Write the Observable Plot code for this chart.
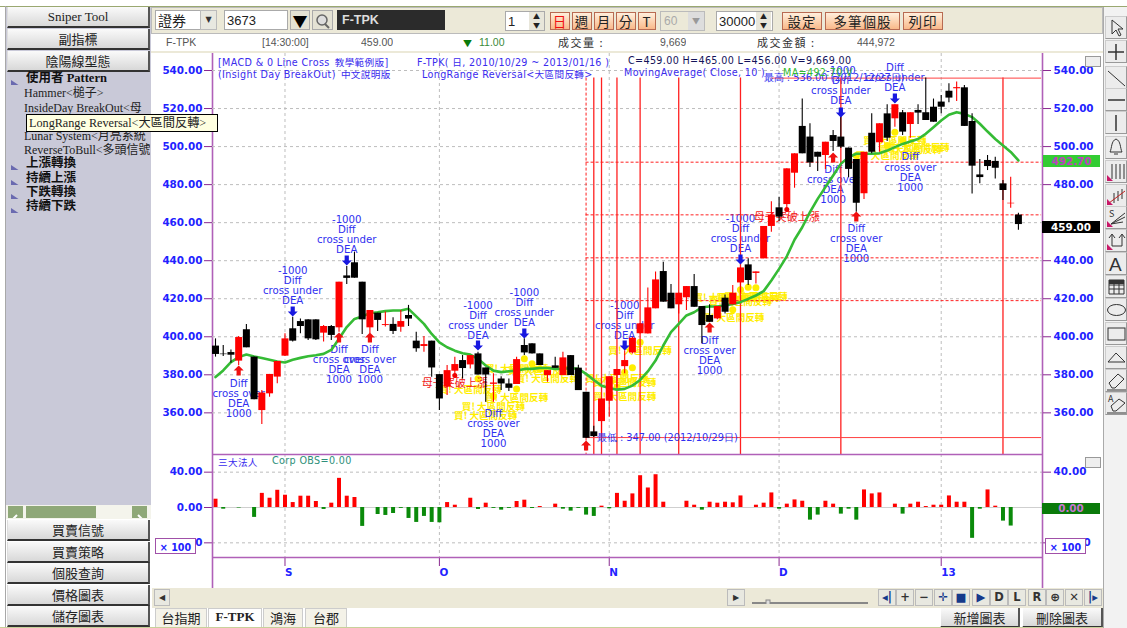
<!DOCTYPE html>
<html><head><meta charset="utf-8">
<script src="https://cdn.jsdelivr.net/npm/d3@7"></script>
<script src="https://cdn.jsdelivr.net/npm/@observablehq/plot@0.6"></script>
<style>
html,body{margin:0;padding:0;background:#fff;overflow:hidden}
#page{position:relative;width:1127px;height:628px;overflow:hidden;font-family:"Noto Sans CJK TC","DejaVu Sans",sans-serif;color:#222}
.a{position:absolute;white-space:nowrap;box-sizing:border-box;overflow:hidden}
.btn{background:linear-gradient(#fafafa,#d8d8d8);border-bottom:2px solid #333;border-right:2px solid #555;border-left:1px solid #ddd;text-align:center;font-size:13px;line-height:19px;color:#222}
.org{background:linear-gradient(#ffefdc,#f9b98a);border:1px solid #b86b52;text-align:center;font-size:13.5px;line-height:17px;color:#222;letter-spacing:1px}
.lst{font:12px/14px "Liberation Serif","Noto Sans CJK TC",serif;color:#222}
.grp{font:bold 12.5px/15px "Liberation Serif","Noto Sans CJK TC",serif;color:#111}
.hd{font:9.6px "DejaVu Sans","Noto Sans CJK TC",sans-serif;color:#3a2bee;letter-spacing:.35px}
.info{font:10.5px "Liberation Sans",sans-serif;color:#555}
.tool{background:#ececec;border:1px solid #ccc;border-right:1px solid #999;border-bottom:1px solid #999}
.ctl{background:#e8e8e0;border:1px solid #bbb;text-align:center;font:bold 11.5px "DejaVu Sans",sans-serif;line-height:15px;color:#333}
</style></head><body><div id="page"></div>
<script>
// Candles (price)
const opens=[395.1,390.9,391.7,387.2,403.7,389.3,361.2,370,378.8,389.8,404.2,408,408.9,408.9,401.9,405.4,404.7,432,438.9,428.7,404.7,412.4,405.9,406.5,405,411.2,397.7,394.9,397.7,380.1,373.5,381.9,387.5,385.2,391,383.6,375,377.8,375.2,374.9,395.4,396.3,391,379.6,384.7,379.6,390.1,383.5,370.8,350,355.4,366.1,379.6,384.3,391.5,401.6,401.5,414.7,434.3,422.9,416.8,420.5,426.4,415.9,411.2,409.4,420.3,416.8,428.3,437.8,433.3,441,458,467.8,469.5,486,510.6,505,497,495.3,505.8,505,499.2,493.2,475.2,507,502,517.2,514.6,517.8,511.6,519,517.8,520.7,523.4,529.1,530.4,530.9,513.2,485.1,492.7,492.2,480.4,469.9,464];
const closes=[390.7,390.6,390.3,399.6,394.2,366.9,370.4,380.2,387,398.9,397.7,405.4,398.9,398.4,405.4,400.7,428.7,430.7,430.8,408.9,413.8,408.6,406.4,402.8,408,409.3,393.7,395.9,383.6,367.3,382.2,385.4,383.3,390.1,379.9,379.9,375.7,375.2,372.9,388,391.5,391,384.9,382.2,383.4,388.9,379.6,371.7,346.6,347.5,367.3,379,382.8,387.5,399.2,406.8,415.2,429.9,418.2,414.7,422.9,426.4,415.5,405.9,407.6,415.9,412.9,422.9,436.2,429.6,434.1,458,464,462.9,488.3,496.2,496.2,491.4,494.4,502.3,502.7,499.7,488,470.2,497,497,512,504.4,522,507.6,517.8,517.6,513.7,512.8,520.7,525.5,531,510.6,489.7,483.7,489.5,488.6,476.9,470.2,459];
const highs=[398.9,395.4,393.1,400.1,406.5,389.3,371.8,380.2,387,401.6,410.3,409.4,408.9,408.9,405.9,405.9,428.7,437,444.5,428.7,413.8,412.4,413,410,413.8,416.5,402.4,400.2,397.7,380.1,384.9,389.2,390.1,390.1,391.9,383.6,380.5,379,377.8,389.2,398.9,396.3,391,382.2,389.2,391.9,390.1,385,370.8,353,367.3,379,382.8,392.7,399.8,407,425.7,434,439.2,427.5,422.9,426.4,432.7,415.9,416.9,415.9,422,427,436.2,441,434.1,458,471,473.4,488.3,496.2,525,512,497,502.3,508.5,518,499.2,493.2,497,517.2,512,522,522,519,517.8,522,536,525,526.9,533,533.9,532.1,517.2,493.2,495.3,494.4,482.2,483.9,465];
const lows=[389.3,389.6,386.1,384.9,394.2,366.9,353.9,368.2,375.3,389.6,397.2,401.6,398,398,397.2,398,402.4,427.5,430.8,401.2,401.6,402.8,405.1,401.2,402.4,405.4,391.9,391.9,378.7,361.2,369.1,378.2,377.8,383.1,379.9,365.6,365.6,371.7,371.2,374.9,390.1,391,384.9,376.1,383.4,379.6,379.6,371.7,346.6,347,347.2,357.7,373.5,380.5,391,401.5,401.5,414.7,418.2,414.7,412,413.8,415.5,396.3,407.6,409,412,416.8,423,427,427.8,441,455,460.8,465.5,478.1,496.2,489,486.9,488,497.4,499,483.6,465.5,472.2,496.2,497,502.7,510.2,505.8,504.4,511.6,513.7,512.8,517.2,523,523.7,510.6,475.1,480.4,487.4,483,471.6,467.6,456];
// Moving average (10)
const ma10=[378.8,382.3,386.7,389.3,390.7,389.6,388.8,387.9,387,386.5,387.9,388.9,389.8,390.3,391,393.1,399,405.1,409.4,410.7,412.4,412.9,413.5,413.8,413.8,414.7,410.7,406.8,401.5,397.1,394.5,392.7,391.3,390.6,388.4,384.9,382.2,381.4,381.9,382.2,383.1,383.1,383.6,383.6,383.1,383.1,383.6,383.1,380.5,377.3,374.3,373.1,372.2,372.6,374.3,377.3,381.8,387.5,395.4,402.4,406.8,411.2,412.9,415.5,415.9,415.9,416.4,417.3,418.2,419.9,421.7,424,429.6,435.7,442.3,451,457.6,465.5,472.5,478.7,484.8,490.9,494.4,496.2,496.2,496.2,496.5,497.9,499.7,501.4,502.7,504,506.7,510.2,513.7,516.7,518.1,517.2,515.5,512,507.9,504,500.6,497.2,492.7];
// Corp OBS (x100)
const corp=[9.4,-1.9,0,-0.6,0,-11.2,16,10.5,19.5,13.9,5.6,12.8,12.8,6.8,-2.2,4.9,33,12.8,11.3,-21.4,0,-7.9,-9,-6.8,-1,-12.4,-16.9,-10.1,-16.9,-17.3,5.6,2.6,0,10.5,-2.2,4.9,-1,-3,-1,6.8,8.3,-1.1,1.1,0,3.8,-1.9,-4.1,-1,-8.6,-10.1,1.5,-1.5,16,7.1,15.4,36,22.1,37.1,6,0,0,7.1,2.6,-3,6,4.9,6,5.3,13.1,0,2.6,4.9,16.5,-1.9,3.8,8.6,7.1,-14.3,-8.6,7.1,3.8,-7.5,-1.9,-14.3,19.9,15.4,16.5,0,3.8,-7.5,3.8,6,1.1,2.6,2.6,13.1,6,6,-34.9,-1.9,19.9,1.5,-15.4,-21,0];
// Axes
const priceTicks=[360,380,400,420,440,460,480,500,520,540];
const priceTicksRight=[360,380,400,420,440,480,500,520,540];
const corpTicks=[-40,0,40];
const corpTicksRight=[-40,40];
const monthIdx=[9,29,51,73,94];
const monthLabels=["S","O","N","D","13"];
// Signals
const underIdx=[10,17,34,40,53,68,81,88];
const underTextY=[437,463.8,418.5,425.4,418.5,464.3,542.1,543.7];
const underText=["-1000\nDiff\ncross under\nDEA","-1000\nDiff\ncross under\nDEA","-1000\nDiff\ncross under\nDEA","-1000\nDiff\ncross under\nDEA","-1000\nDiff\ncross under\nDEA","-1000\nDiff\ncross under\nDEA","-1000\nDiff\ncross under\nDEA","Diff\ncross under\nDEA"];
const underArrowY=[413.3,440.1,395.4,401.7,395.4,440.6,517.9,525.3];
const overIdx=[3,16,20,36,64,80,83,90];
const overTextY=[377.5,395.4,395.4,361.8,400.1,490.1,459,496.5];
const overArrowIdx=[3,16,20,48,64,80,83];
const overArrowY=[382.3,399.6,399.6,342.8,404.9,494.3,463.2];
const reversalIdx=[48,49,50,52,55,60,68,81,102];
const levelsDashed=[491.8,464.1,441.5,419];
const yellowTextIdx=[33,39,36,35,43,39,42,52,55,53,53,69,66,70,67,68,88,90,87,91];
const yellowTextY=[372.3,368.1,363.3,358.6,378.1,383.3,382.3,378.1,392.8,368.6,375.8,420.6,420.6,421,409.8,418.5,503.2,498,495.3,499.5];
const yellowDotIdx=[34,36,40,41,42,39,52,53,54,55,67,68,69,70,88,89,87,83];
const yellowDotY=[377.9,368.6,388.4,385.8,383.2,372.6,373.5,381.4,383.7,397.1,414.2,424.7,426.1,425.8,507.6,503.2,500.6,495.3];
const redDotIdx=[31,74], redDotY=[379.6,466.9];
const redTextIdx=[31,74], redTextY=[375.4,462.7];

const idx=d3.range(opens.length);
const XD=[-0.389,107.12];
const BLUE="#2222ff",PUR="#b060b8",GRID="#bdbdbd";
const axisFont={fontFamily:"DejaVu Sans",fontSize:10.4,fontWeight:"bold"};
const arrowUp={draw(c,s){const r=Math.sqrt(s/Math.PI);c.moveTo(0,-r);c.lineTo(r,0);c.lineTo(r*.42,0);c.lineTo(r*.42,r);c.lineTo(-r*.42,r);c.lineTo(-r*.42,0);c.lineTo(-r,0);c.closePath();}};
const arrowDown={draw(c,s){const r=Math.sqrt(s/Math.PI);c.moveTo(0,r);c.lineTo(r,0);c.lineTo(r*.42,0);c.lineTo(r*.42,-r);c.lineTo(-r*.42,-r);c.lineTo(-r*.42,0);c.lineTo(-r,0);c.closePath();}};
const sigFont={fontFamily:"DejaVu Sans",fontSize:10.2,fill:"#3030f0",lineHeight:1.0,lineAnchor:"top",textAnchor:"middle"};
const yFont={fontFamily:"Noto Sans CJK TC",fontSize:9.6,fill:"#ffee00",fontWeight:"bold"};

const price=Plot.plot({
  width:948,height:401,marginLeft:60,marginRight:58,marginTop:0,marginBottom:0,
  x:{domain:XD,axis:null},y:{domain:[338.1,548.94]},
  style:{background:"transparent",overflow:"visible"},
  marks:[
    Plot.gridY(priceTicks,{stroke:GRID,strokeOpacity:1,strokeDasharray:"3,3"}),
    Plot.gridX(monthIdx,{stroke:GRID,strokeOpacity:1,strokeDasharray:"3,3"}),
    Plot.axisY({anchor:"left",ticks:priceTicks,tickFormat:d=>d.toFixed(2),tickSize:8,tickPadding:2,stroke:"#8a2a90",fill:BLUE,label:null,...axisFont}),
    Plot.axisY({anchor:"right",ticks:priceTicksRight,tickFormat:d=>d.toFixed(2),tickSize:8,tickPadding:3,stroke:"#8a2a90",fill:BLUE,label:null,...axisFont}),
    Plot.text(yellowTextIdx,{x:d=>d,y:(d,i)=>yellowTextY[i],text:()=>"買! 大區間反轉",...yFont}),
    Plot.dot(yellowDotIdx,{x:d=>d,y:(d,i)=>yellowDotY[i],r:3.5,fill:"#ffee00"}),
    Plot.text(redTextIdx,{x:d=>d,y:(d,i)=>redTextY[i],text:()=>"母子突破上漲",fontFamily:"Noto Sans CJK TC",fontSize:11,fill:"#f01818"}),
    Plot.text(underIdx,{x:d=>d,y:(d,i)=>underTextY[i],text:(d,i)=>underText[i],...sigFont}),
    Plot.text(overIdx,{x:d=>d,y:(d,i)=>overTextY[i],text:()=>"Diff\ncross over\nDEA\n1000",...sigFont}),
    Plot.ruleX(reversalIdx.slice(1),{y1:536,y2:338.1,stroke:"#ff2020",strokeWidth:1.3}),
    Plot.ruleX(reversalIdx.slice(0,1),{y1:536,y2:338.1,stroke:"#ff2020",strokeDasharray:"3,2"}),
    Plot.ruleY(levelsDashed,{x1:48,x2:107,stroke:"#ff2020",strokeDasharray:"3,2"}),
    Plot.ruleY([536],{x1:72,x2:107,stroke:"#ff4040"}),
    Plot.ruleY([347],{x1:48,x2:107,stroke:"#ff4040"}),
    Plot.line(idx,{x:d=>d,y:i=>ma10[i],stroke:"#35bb35",strokeWidth:2.6}),
    Plot.ruleX(idx,{x:d=>d,y1:i=>lows[i],y2:i=>highs[i],stroke:i=>closes[i]>=opens[i]?"#ff0000":"#000000",strokeWidth:1.1}),
    Plot.ruleX(idx,{x:d=>d,y1:i=>opens[i],y2:i=>closes[i],stroke:i=>closes[i]>=opens[i]?"#ff0000":"#000000",strokeWidth:7}),
    Plot.dot(redDotIdx,{x:d=>d,y:(d,i)=>redDotY[i],r:2.5,fill:"#f00000"}),
    Plot.dot(underIdx,{x:d=>d,y:(d,i)=>underArrowY[i],r:5,symbol:arrowDown,fill:"#1818e0"}),
    Plot.dot(overArrowIdx,{x:d=>d,y:(d,i)=>overArrowY[i],r:5,symbol:arrowUp,fill:"#f01010"}),
    Plot.text(["最高 : 536.00 (2012/12/27日)"],{x:71,y:536,textAnchor:"start",fontFamily:"DejaVu Sans",fontSize:9.8,fill:"#3030f0"}),
    Plot.text(["最低 : 347.00 (2012/10/29日)"],{x:49,y:347,dx:3,textAnchor:"start",fontFamily:"DejaVu Sans",fontSize:9.8,fill:"#3030f0"})
  ]
});

const lower=Plot.plot({
  width:948,height:134,marginLeft:60,marginRight:58,marginTop:0,marginBottom:31,
  x:{domain:XD},y:{domain:[-56.6,60]},
  style:{background:"transparent",overflow:"visible"},
  marks:[
    Plot.gridY([-40,40],{stroke:GRID,strokeOpacity:1,strokeDasharray:"3,3"}),
    Plot.gridX(monthIdx,{stroke:GRID,strokeOpacity:1,strokeDasharray:"3,3"}),
    Plot.ruleY([0],{x1:-0.389,x2:107.12,stroke:"#cfcfcf",strokeDasharray:"none"}),
    Plot.axisY({anchor:"left",ticks:corpTicks,tickFormat:d=>d.toFixed(2),tickSize:8,tickPadding:2,stroke:"#8a2a90",fill:BLUE,label:null,...axisFont}),
    Plot.axisY({anchor:"right",ticks:corpTicksRight,tickFormat:d=>d.toFixed(2),tickSize:8,tickPadding:3,stroke:"#8a2a90",fill:BLUE,label:null,...axisFont}),
    Plot.axisX({anchor:"bottom",ticks:monthIdx,tickFormat:(d,i)=>monthLabels[i],tickSize:9,tickPadding:2,stroke:"#8a2a90",fill:BLUE,label:null,textAnchor:"start",...axisFont}),
    Plot.ruleX(idx.filter(i=>corp[i]!==0),{x:d=>d,y1:0,y2:i=>corp[i],stroke:i=>corp[i]>=0?"#ff0000":"#0a8a0a",strokeWidth:4}),
    Plot.ruleY([60,-56.6],{stroke:PUR,strokeWidth:1.6}),
    Plot.ruleX(XD,{y1:-91.7,y2:60,stroke:PUR,strokeWidth:1.6})
  ]
});
const priceBorder=Plot.plot({width:948,height:401,marginLeft:60,marginRight:58,marginTop:0,marginBottom:0,x:{domain:XD,axis:null},y:{domain:[0,1],axis:null},style:{background:"transparent",overflow:"visible"},marks:[Plot.ruleX(XD,{stroke:PUR,strokeWidth:1.6})]});

const page=document.getElementById("page");
function el(x,y,w,h,txt,cls,css){const d=document.createElement("div");d.className="a "+(cls||"");d.style.cssText=`left:${x}px;top:${y}px;${w!=null?`width:${w}px;`:""}${h!=null?`height:${h}px;`:""}${css||""}`;if(txt!=null)d.innerHTML=txt;page.appendChild(d);return d;}
function place(svg,x,y){const w=el(x,y,null,null,null,"","overflow:visible");w.appendChild(svg);}

// chrome backgrounds
el(0,6,1127,1,null,"","background:#9aa870");
el(5,6,1,622,null,"","background:#a8a8a8");
el(6,7,145,500,null,"","background:#c9c9d8");
el(151,7,952,27,null,"","background:#ece9d8;border:1px solid #bbb");
el(151,34,952,19,null,"","background:#fff;border-bottom:2px solid #ece9d8");

place(priceBorder,152,53);place(price,152,53);place(lower,152,454);

// left panel
[["Sniper Tool",7,"font-family:'Liberation Serif',serif"],["副指標",29],["陰陽線型態",51]].forEach(b=>el(7,b[1],143,21,b[0],"btn",b[2]||""));
const tri=(y)=>el(11,y,9,12,'<svg width="9" height="12"><path d="M0 0L9 6L0 12Z" fill="#6a6ab0"/></svg>');
[[79,"使用者 Pattern"],[164,"上漲轉換"],[179,"持續上漲"],[193,"下跌轉換"],[207,"持續下跌"]].forEach(g=>{tri(g[0]-6);el(26,g[0]-8,122,15,g[1],"grp");});
[[93,"Hammer&lt;槌子&gt;"],[108,"InsideDay BreakOut&lt;母"],[136,"Lunar System&lt;月亮系統"],[150,"ReverseToBull&lt;多頭信號"]].forEach(g=>el(24,g[0]-7,126,14,g[1],"lst"));
el(26,114,192,18,"LongRange Reversal&lt;大區間反轉&gt;","lst","background:#ffffe1;border:1px solid #000;padding-left:2px;line-height:16px;font-size:12.2px");
// left scrollbar
el(6,505,145,14,null,"","background:#f4f4ec");
el(8,506,15,12,'<svg width="15" height="12"><path d="M9 2L5 6L9 10" stroke="#fff" stroke-width="2" fill="none"/></svg>',"","background:#8fa878");
el(26,506,70,12,null,"","background:#8fa878");
el(132,506,15,12,'<svg width="15" height="12"><path d="M6 2L10 6L6 10" stroke="#fff" stroke-width="2" fill="none"/></svg>',"","background:#8fa878");
[["買賣信號",520],["買賣策略",542],["個股查詢",563],["價格圖表",585],["儲存圖表",606]].forEach(b=>el(7,b[1],143,21,b[0],"btn"));

// top toolbar
el(155,10,46,20,"證券","","background:#fff;border:1px solid #aaa;font-size:14px;line-height:19px;padding-left:2px");
el(200,10,17,20,"▼","ctl","font-size:8px;line-height:18px");
el(224,10,64,20,"3673","","background:#fff;border:1px solid #aaa;font:13px 'Liberation Sans';line-height:19px;padding-left:2px");
el(290,10,20,20,"▼","","text-align:center;font-size:15px;line-height:19px;color:#000;background:#e4e2d4;border:1px solid #aaa");
el(312,10,21,20,'<svg width="19" height="18"><circle cx="9" cy="8" r="5" fill="#ddd" stroke="#666" stroke-width="1.5"/><path d="M12 12L16 16" stroke="#666" stroke-width="2"/></svg>',"","background:#e4e2d4;border:1px solid #aaa");
el(337,10,108,20,"F-TPK","","background:#2b2b2b;color:#ddd;font:bold 12.5px 'Liberation Sans';line-height:20px;padding-left:5px");
el(505,11,40,20,"1","","background:#fff;border:1px solid #aaa;font:13px 'Liberation Sans';line-height:19px;padding-left:2px");
el(529,12,15,18,"▲<br>▼","","font-size:7px;line-height:9px;text-align:center;background:#e8e6da");
[["日",550,20,"color:#f01010"],["週",572,20],["月",594,20],["分",616,20],["T",638,18]].forEach(b=>el(b[1],12,b[2],18,b[0],"org",b[3]||""));
el(660,11,45,20,"60","","background:#ece9d8;border:1px solid #bbb;color:#aaa;font:12px 'Liberation Sans';line-height:19px;padding-left:3px");
el(688,12,16,18,"▼","","background:#ddd;color:#999;font-size:8px;line-height:18px;text-align:center");
el(716,11,57,20,"30000","","background:#fff;border:1px solid #aaa;font:13px 'Liberation Sans';line-height:19px;padding-left:2px");
el(756,12,15,18,"▲<br>▼","","font-size:7px;line-height:9px;text-align:center;background:#e8e6da");
[["設定",782,40],["多筆個股",825,75],["列印",903,40]].forEach(b=>el(b[1],12,b[2],18,b[0],"org"));

// info row
[["F-TPK",166],["[14:30:00]",262],["459.00",361],["9,669",660],["444,972",857]].forEach(t=>el(t[1],36,null,14,t[0],"info"));
el(463,37,12,13,"▼","","font-size:9px;line-height:13px;color:#0a7a0a");
el(479,36,null,14,"11.00","info","color:#3a8a3a");
el(558,35,null,16,"成交量 :","","font-size:11px;line-height:15px;letter-spacing:1.5px;color:#333");
el(757,35,null,16,"成交金額 :","","font-size:11px;line-height:15px;letter-spacing:1.5px;color:#333");

// chart header
el(218,55,null,13,"[MACD &amp; 0 Line Cross_教學範例版]","hd");
el(218,67,null,13,"(Insight Day BreakOut)_中文說明版","hd");
el(417,55,null,13,"F-TPK( 日, 2010/10/29 ~ 2013/01/16 )","hd");
el(628,55,null,13,"C=459.00 H=465.00 L=456.00 V=9,669.00","hd","color:#14145a");
el(422,67,null,13,"LongRange Reversal&lt;大區間反轉&gt;","hd");
el(624,67,null,13,"MovingAverage( Close, 10 )","hd");
el(783,67,null,13,"MA=492.70 V","hd","color:#33bb33");
el(218,455,null,13,"三大法人","hd");
el(272,455,null,13,"Corp OBS=0.00","hd","color:#2e8f7a");
const drop=(x,y)=>el(x,y,16,11,'<svg width="14" height="9"><path d="M2 2H12L7 7Z" fill="#555"/></svg>',"","background:#eee;border:1px solid #999");
drop(1085,56);drop(1085,457);

// value flags
el(1043,155,57,12,"492.70","","background:#33cc33;color:#c040c0;font:bold 10.4px 'DejaVu Sans';line-height:12px;text-align:center");
el(1042,221,58,12,"459.00","","background:#000;color:#fff;font:bold 10.4px 'DejaVu Sans';line-height:12px;text-align:center");
el(1042,503,58,11,"0.00","","background:#0a7a0a;color:#c878d0;font:bold 10.4px 'DejaVu Sans';line-height:11px;text-align:center");
const x100=x=>el(x,537.5,41,16.5,"× 100","","background:#fff;border:1px solid #a050a8;color:#2222ff;font:bold 9.6px 'DejaVu Sans';line-height:17px;text-align:center");
x100(155);x100(1045);

// bottom scroll bar
el(152,588,952,20,null,"","background:#ece9d8");
el(154,589,16,17,"◀","ctl","font-size:8px");
el(727,589,18,17,"▶","ctl","font-size:8px");
el(752,592,118,12,'<svg width="118" height="12"><path d="M0 4H116" stroke="#888" stroke-width="2"/><rect x="14" y="1" width="4" height="9" fill="#ddd" stroke="#888"/></svg>');
[["◂|",878],["+",896],["−",915],["✛",934],["■",952],["▶",972],["D",990],["L",1008],["R",1028],["⊕",1046],["✕",1065],["|▸",1084]].forEach(b=>el(b[1],589,18,17,b[0],"ctl",`color:${"◂|✛▶|▸■".includes(b[0])?"#163a8a":"#333"};`));
// tabs
[["台指期",155,52],["F-TPK",208,54],["鴻海",263,40],["台郡",305,42]].forEach((t,i)=>el(t[1],608,t[2],19,t[0],"","text-align:center;font-size:13px;line-height:18px;background:#f4f2e8;border:1px solid #ccc;border-bottom:none;"+(i==1?"font:bold 13px 'Liberation Serif';background:#fff;":"")));
el(940,608,80,20,"新增圖表","btn","border-left:1px solid #fff");
el(1022,608,81,20,"刪除圖表","btn","border-left:1px solid #fff");
el(0,627,1127,1,null,"","background:#c8d09a");

// right tools
el(1103,7,24,621,null,"","background:#f2f2f2;border-left:1px solid #aaa");
const S='stroke="#333" fill="none"';
const tools=[
 [27,`<path d="M6 3V17L10 13L13 19L15 18L12 12H17Z" ${S} fill="#fff"/>`],
 [51,`<path d="M10 3V19M2 11H18" stroke="#333" stroke-width="1.5"/>`],
 [77,`<path d="M2 4L19 19" ${S}/>`],
 [99,`<path d="M2 11H19" stroke="#333" stroke-width="1.5"/>`],
 [122,`<path d="M10 3V19" stroke="#333" stroke-width="1.5"/>`],
 [147,`<path d="M10 2C5 4 6 11 4 15H16C14 11 15 4 10 2ZM8 17H12" ${S}/>`],
 [171,`<path d="M6 3V18M10 3V18M14 3V18M18 3V18" stroke="#333"/><path d="M1 14V20H7Z" fill="#c81868"/>`],
 [195,`<path d="M8 8V18M12 6V16M16 4V14" stroke="#333"/><path d="M3 18L19 6" stroke="#c02020"/><path d="M1 14V20H7Z" fill="#c81868"/>`],
 [217,`<text x="3" y="10" font-size="9" fill="#333">S</text><path d="M5 17L19 6M5 17L19 10M5 17L17 15" stroke="#333"/><path d="M1 14V20H7Z" fill="#c81868"/>`],
 [240,`<path d="M6 5V16H16V5M3 8L6 4L9 8M13 8L16 4L19 8" ${S}/><path d="M1 14V20H7Z" fill="#c81868"/>`],
 [263,`<text x="3" y="18" font-size="19" fill="#333" font-family="Liberation Sans">A</text>`],
 [286,`<path d="M3 4H18V18H3ZM3 9H18M3 13H18M8 4V18M13 4V18" ${S}/><path d="M3 4H18V8H3Z" fill="#333"/>`],
 [309,`<ellipse cx="10.5" cy="11" rx="9" ry="5.5" ${S}/>`],
 [333,`<rect x="2" y="5" width="17" height="12" ${S}/>`],
 [357,`<path d="M2 15L10 6L19 15Z" ${S}/>`],
 [380,`<path d="M3 13L12 4L18 9L9 18H6Z" ${S}/><path d="M1 20H20" stroke="#333"/>`],
 [403,`<path d="M5 13L13 6L19 10L10 18H7Z" ${S}/><text x="2" y="9" font-size="9" fill="#333">A</text><path d="M1 20H20" stroke="#333"/>`]
];
tools.forEach(t=>el(1105,t[0]-11,22,23,`<svg width="21" height="22">${t[1]}</svg>`,"tool"));
</script></body></html>
